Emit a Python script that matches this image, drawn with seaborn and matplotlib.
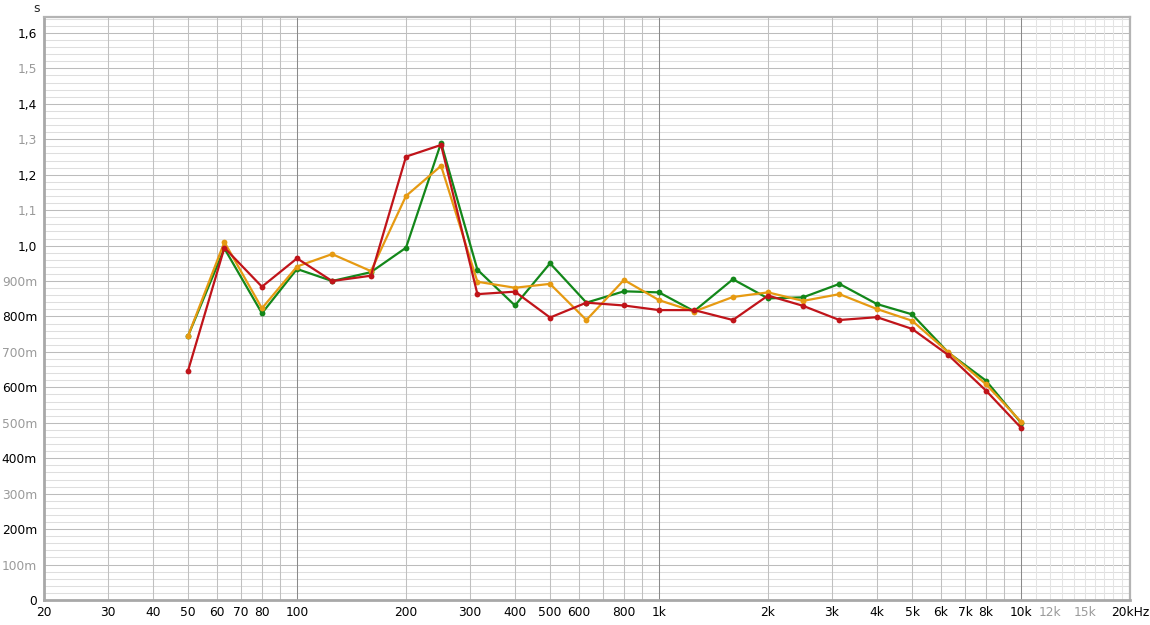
import numpy as np
import pandas as pd
import matplotlib
matplotlib.use("Agg")
import matplotlib.pyplot as plt
import seaborn as sns
from matplotlib.ticker import FixedLocator, NullFormatter

# ── Data ───────────────────────────────────────────────────────────────────────
freqs = [50, 63, 80, 100, 125, 160, 200, 250, 315, 400, 500, 630, 800,
         1000, 1250, 1600, 2000, 2500, 3150, 4000, 5000, 6300, 8000, 10000]

green = [0.745, 0.992, 0.809, 0.934, 0.900, 0.925, 0.994, 1.290, 0.932, 0.831,
         0.950, 0.839, 0.871, 0.868, 0.815, 0.905, 0.851, 0.854, 0.892, 0.835,
         0.806, 0.698, 0.619, 0.500]
orange = [0.745, 1.010, 0.823, 0.941, 0.976, 0.928, 1.140, 1.225, 0.898, 0.881,
          0.892, 0.790, 0.903, 0.846, 0.814, 0.855, 0.868, 0.844, 0.863, 0.821,
          0.788, 0.699, 0.609, 0.503]
red = [0.647, 0.994, 0.884, 0.964, 0.900, 0.915, 1.251, 1.284, 0.863, 0.870,
       0.797, 0.839, 0.831, 0.818, 0.818, 0.790, 0.859, 0.830, 0.790, 0.798,
       0.765, 0.691, 0.591, 0.486]

series_names = ["green", "orange", "red"]
series_colors = {"green": "#13871a", "orange": "#e69a12", "red": "#c0141a"}

y_ticks = [round(0.1 * i, 1) for i in range(17)]
y_labels = ["0", "100m", "200m", "300m", "400m", "500m", "600m", "700m",
            "800m", "900m", "1,0", "1,1", "1,2", "1,3", "1,4", "1,5", "1,6"]

x_ticks = [20, 30, 40, 50, 60, 70, 80, 100, 200, 300, 400, 500, 600, 800,
           1000, 2000, 3000, 4000, 5000, 6000, 7000, 8000, 10000, 12000,
           15000, 20000]
x_labels = ["20", "30", "40", "50", "60", "70", "80", "100", "200", "300",
            "400", "500", "600", "800", "1k", "2k", "3k", "4k", "5k", "6k",
            "7k", "8k", "10k", "12k", "15k", "20kHz"]
x_gray = {"12k", "15k"}

df = pd.DataFrame({
    "freq": freqs * 3,
    "value": green + orange + red,
    "series": sum([[n] * len(freqs) for n in series_names], []),
})

# ── Figure ─────────────────────────────────────────────────────────────────────
sns.set_style("white")
plt.rcParams["font.family"] = ["DejaVu Sans"]

fig = plt.figure(figsize=(11.5, 6.25), dpi=100)
ax = fig.add_axes([44 / 1150, 25 / 625, 1086 / 1150, 583 / 625])

ax.set_xscale("log")
ax.set_xlim(20, 20000)
ax.set_ylim(0, 1.645)

# grid
for v in np.arange(0.02, 1.645, 0.02):
    major = abs(v * 10 - round(v * 10)) < 1e-6
    ax.axhline(v, color="#bcbcbc" if major else "#dedede", lw=0.75, zorder=0)
for dec in [10, 100, 1000]:
    for m in range(2, 10):
        f = dec * m
        if 20 < f < 20000:
            ax.axvline(f, color="#c0c0c0", lw=0.75, zorder=0)
for f in range(11000, 20000, 1000):
    ax.axvline(f, color="#e4e4e4", lw=0.75, zorder=0)
for f in [100, 1000, 10000]:
    ax.axvline(f, color="#8a8a8a", lw=0.75, zorder=0)

sns.lineplot(data=df, x="freq", y="value", hue="series", hue_order=series_names,
             palette=series_colors, marker="o", markersize=4.2, markeredgewidth=0,
             linewidth=1.6, legend=False, ax=ax, zorder=3)

ax.set_xlabel("")
ax.set_ylabel("")

ax.yaxis.set_major_locator(FixedLocator(y_ticks))
ax.set_yticklabels(y_labels)
ax.xaxis.set_major_locator(FixedLocator(x_ticks))
ax.xaxis.set_minor_formatter(NullFormatter())
ax.set_xticklabels(x_labels)
ax.tick_params(axis="both", which="both", length=0, labelsize=8.8, colors="black")
ax.tick_params(axis="y", pad=5)
ax.tick_params(axis="x", pad=4)

for i, t in enumerate(ax.get_yticklabels()):
    t.set_color("black" if i % 2 == 0 else "#9a9a9a")
for t in ax.get_xticklabels():
    if t.get_text() in x_gray:
        t.set_color("#9a9a9a")

for side in ["left", "bottom"]:
    ax.spines[side].set_color("#a8a8a8")
    ax.spines[side].set_linewidth(2)
for side in ["top", "right"]:
    ax.spines[side].set_color("#b4b4b4")
    ax.spines[side].set_linewidth(1.6)

fig.text(37 / 1150, 1 - 8 / 625, "s", fontsize=9, ha="center", va="center")

plt.savefig("out.png", dpi=100)
plt.close()
